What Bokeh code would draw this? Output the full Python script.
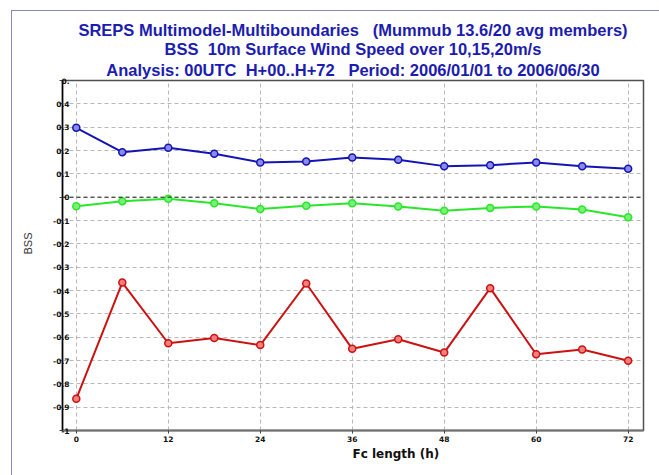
from bokeh.plotting import figure
from bokeh.models import Range1d, FixedTicker, Span, Title
from bokeh.embed import file_html
from bokeh.resources import INLINE

# ---- data ----
fc_hours = [0, 6, 12, 18, 24, 30, 36, 42, 48, 54, 60, 66, 72]
bss_blue = [0.297, 0.193, 0.212, 0.186, 0.149, 0.153, 0.170, 0.160, 0.133, 0.137, 0.149, 0.133, 0.122]
bss_green = [-0.039, -0.017, -0.007, -0.026, -0.051, -0.037, -0.026, -0.040, -0.058, -0.046, -0.040, -0.053, -0.086]
bss_red = [-0.864, -0.366, -0.626, -0.604, -0.634, -0.370, -0.650, -0.609, -0.666, -0.390, -0.673, -0.653, -0.701]

x_ticks = [0, 12, 24, 36, 48, 60, 72]
y_ticks = [0.5, 0.4, 0.3, 0.2, 0.1, 0.0, -0.1, -0.2, -0.3, -0.4, -0.5, -0.6, -0.7, -0.8, -0.9, -1.0]
y_tick_labels = ["0.", "0.4", "0.3", "0.2", "0.1", "0", "-0.1", "-0.2", "-0.3", "-0.4",
                 "-0.5", "-0.6", "-0.7", "-0.8", "-0.9", "-1"]

NB = "\u00a0"
title_lines = [
    f"SREPS Multimodel-Multiboundaries {NB}{NB}(Mummub 13.6/20 avg members)",
    f"BSS {NB}10m Surface Wind Speed over 10,15,20m/s",
    f"Analysis: 00UTC {NB}H+00..H+72 {NB}{NB}Period: 2006/01/01 to 2006/06/30",
]
x_label = "Fc length (h)"
y_label = "BSS"

# ---- layout ----
W, H = 659, 475
BL, BR, BT, BB = 62, 16, 80, 45
X0, X1 = -1.8, 74.0
Y0, Y1 = -1.0, 0.5

p = figure(width=W, height=H, output_backend="svg", toolbar_location=None,
           x_range=Range1d(X0, X1), y_range=Range1d(Y0, Y1),
           min_border_left=BL, min_border_right=BR, min_border_top=BT, min_border_bottom=BB,
           background_fill_color="white", border_fill_color=None)

FRAME = "#8a8ab4"
p.styles = {
    "background": (f"linear-gradient({FRAME},{FRAME}) 11px 10px / 100% 1px no-repeat, "
                   f"linear-gradient({FRAME},{FRAME}) 11px 10px / 1px 100% no-repeat, white"),
}

p.outline_line_color = "#505050"
p.outline_line_width = 1.5

# grids
for g in (p.xgrid, p.ygrid):
    g.grid_line_color = "#b8b8b8"
    g.grid_line_dash = "4 3"
    g.grid_line_width = 1
p.xgrid.ticker = FixedTicker(ticks=x_ticks)
p.ygrid.ticker = FixedTicker(ticks=y_ticks)

p.add_layout(Span(location=0, dimension="width", line_color="#202020",
                  line_dash="4 3", line_width=1))

# axes
p.xaxis.ticker = FixedTicker(ticks=x_ticks)
p.yaxis.ticker = FixedTicker(ticks=y_ticks)
p.yaxis.major_label_overrides = {t: l for t, l in zip(y_ticks, y_tick_labels)}
for ax in (p.xaxis[0], p.yaxis[0]):
    ax.major_label_text_font = "DejaVu Sans"
    ax.major_label_text_font_style = "bold"
    ax.major_label_text_font_size = "7.5px"
    ax.major_label_text_color = "#101010"
    ax.minor_tick_line_color = None
    ax.major_tick_in = 0
    ax.major_tick_out = 3
    ax.major_tick_line_color = "#404040"
p.yaxis.axis_line_color = "#000000"
p.yaxis.axis_line_width = 1.5
p.xaxis.axis_line_color = "#707070"
p.xaxis.axis_line_width = 2
p.yaxis.major_label_standoff = -10
p.xaxis.major_label_standoff = 2

# y-axis label as a left title, placed a little above the frame's middle
p.add_layout(Title(text=y_label, align="left", offset=176, text_font="Liberation Sans",
                   text_font_style="normal", text_font_size="11px", text_color="#333333",
                   standoff=33), "left")

# series
series = [
    (bss_blue, "#1414b4", "#8a8ae8"),
    (bss_green, "#2ae62a", "#7af07a"),
    (bss_red, "#cc1111", "#f08080"),
]
for vals, col, fill in series:
    p.line(fc_hours, vals, line_color=col, line_width=2)
    p.scatter(fc_hours, vals, size=7, line_color=col, line_width=1.5, fill_color=fill)

# titles (first added sits closest to the plot)
title_standoffs = [4, -2, 0]
for txt, so in zip(reversed(title_lines), title_standoffs):
    p.add_layout(Title(text=txt, align="center", text_font="Liberation Sans",
                       text_font_style="bold", text_font_size="16.5px",
                       text_color="#1c1cb0", standoff=so,
                       text_line_height=1.15), "above")

p.add_layout(Title(text=x_label, align="left", offset=290, text_font="DejaVu Sans",
                   text_font_style="bold", text_font_size="12px", text_color="#101010",
                   standoff=0), "below")

open("out.html", "w").write(file_html(p, INLINE))
